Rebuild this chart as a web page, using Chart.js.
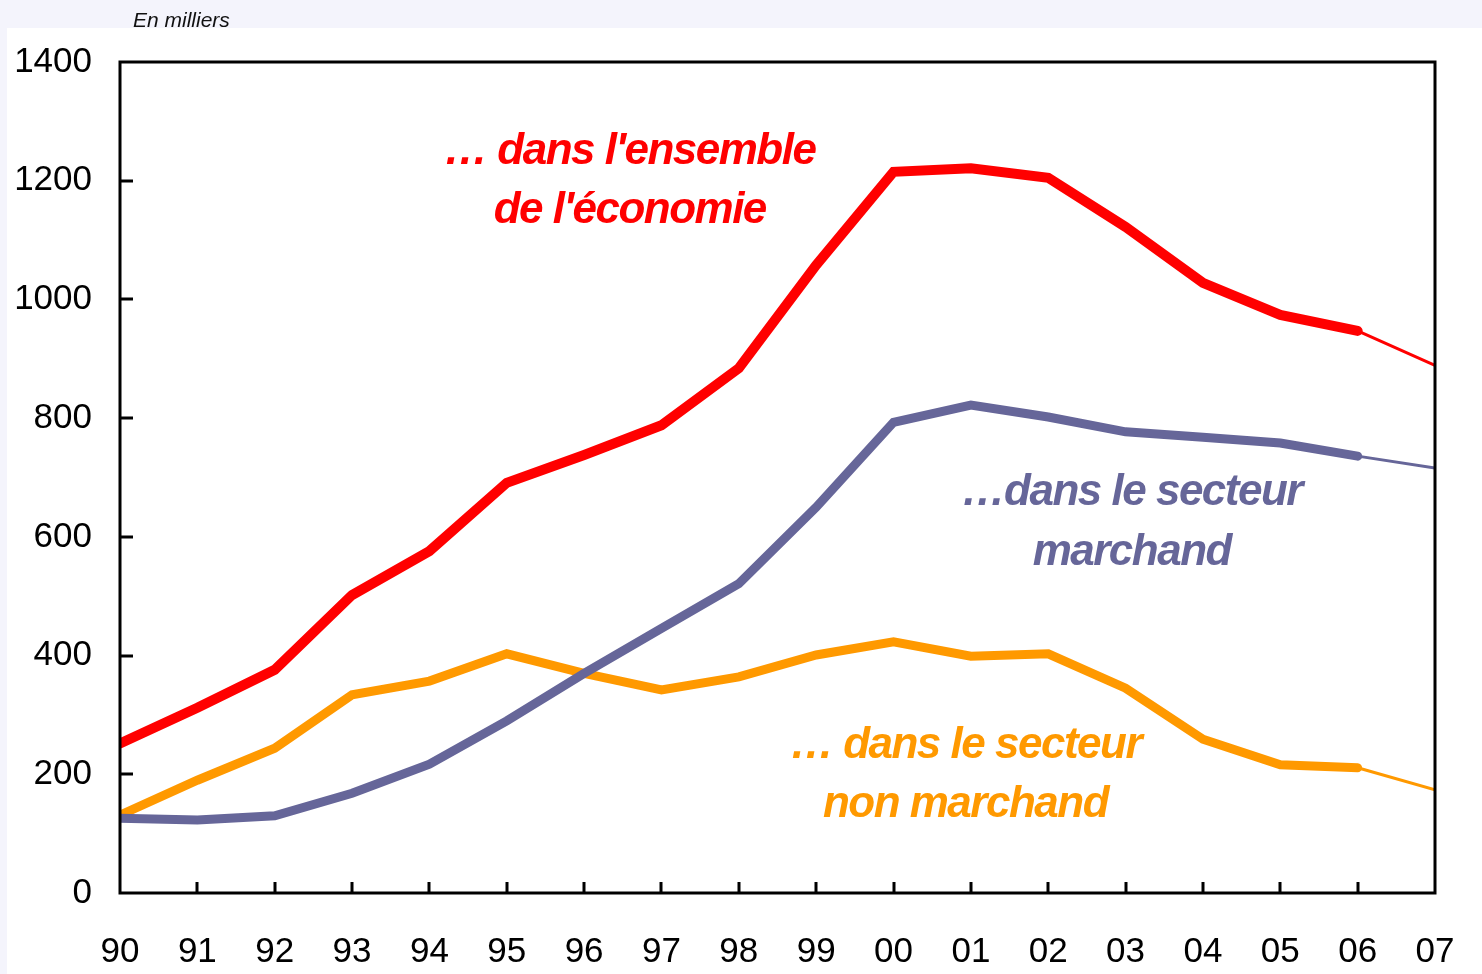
<!DOCTYPE html>
<html lang="fr">
<head>
<meta charset="utf-8">
<title>Emplois aidés</title>
<script src="https://cdn.jsdelivr.net/npm/chart.js@4.4.1/dist/chart.umd.min.js"></script>
<style>
  html, body { margin: 0; padding: 0; background: #f4f4fc; }
  #wrap { position: relative; width: 1482px; height: 974px; }
  canvas { display: block; }
</style>
</head>
<body>
<div id="wrap"><canvas id="chart" width="1482" height="974"></canvas></div>
<script>
// ── Data (en milliers) ────────────────────────────────────────────────
const years     = ['90','91','92','93','94','95','96','97','98','99','00','01','02','03','04','05','06','07'];
const ensemble  = [252, 312, 376, 502, 576, 691, 738, 788, 884, 1058, 1215, 1221, 1205, 1122, 1028, 974, 947, 889];
const marchand  = [126, 123, 130, 168, 217, 290, 370, 446, 521, 650, 793, 822, 802, 777, 768, 758, 736, 716];
const nonMarch  = [131, 190, 244, 334, 357, 403, 370, 342, 364, 401, 423, 399, 403, 345, 259, 216, 211, 174];
const yTicks    = [0, 200, 400, 600, 800, 1000, 1200, 1400];

// ── Annotation texts ──────────────────────────────────────────────────
const labels = [
  { lines: ['… dans l\'ensemble', 'de l\'économie'], color: '#ff0000', x: 6.59, y: 1228, gap: 59 },
  { lines: ['…dans le secteur', 'marchand'],         color: '#666699', x: 13.08, y: 654, gap: 60 },
  { lines: ['… dans le secteur', 'non marchand'],    color: '#ff9900', x: 10.93, y: 227, gap: 59 },
];

const FONT = '"Liberation Sans", Arial, sans-serif';
const LAST = years.length - 1;

function thinLast(width) {
  return ctx => (ctx.p1DataIndex === LAST ? 3 : width);
}

function series(data, color, width) {
  return {
    data,
    borderColor: color,
    backgroundColor: color,
    borderWidth: width,
    borderCapStyle: 'round',
    borderJoinStyle: 'miter',
    pointRadius: 0,
    tension: 0,
    fill: false,
    clip: 0,
    segment: { borderWidth: thinLast(width) },
  };
}

// ── Plugin: page panel, frame, inner ticks, annotations ───────────────
const decor = {
  id: 'decor',
  beforeDraw(chart) {
    const c = chart.ctx;
    c.save();
    c.fillStyle = '#f4f4fc';
    c.fillRect(0, 0, chart.width, chart.height);
    c.fillStyle = '#ffffff';
    c.fillRect(7, 28, chart.width - 7, chart.height - 28);
    c.fillStyle = '#111';
    c.font = 'italic 21px ' + FONT;
    c.textBaseline = 'alphabetic';
    c.fillText('En milliers', 133, 27);
    c.restore();
  },
  afterDatasetsDraw(chart) {
    const c = chart.ctx;
    const a = chart.chartArea;
    const xs = chart.scales.x, ys = chart.scales.y;
    c.save();
    c.strokeStyle = '#000';
    c.lineWidth = 3;
    c.beginPath();
    for (let i = 1; i < LAST; i++) {
      const px = Math.round(xs.getPixelForValue(i));
      c.moveTo(px, a.bottom);
      c.lineTo(px, a.bottom - 11);
    }
    yTicks.slice(1, -1).forEach(v => {
      const py = Math.round(ys.getPixelForValue(v));
      c.moveTo(a.left, py);
      c.lineTo(a.left + 13, py);
    });
    c.stroke();
    c.strokeRect(a.left, a.top, a.right - a.left, a.bottom - a.top);

    c.textAlign = 'center';
    c.textBaseline = 'alphabetic';
    c.font = 'italic bold 44px ' + FONT;
    if ('letterSpacing' in c) c.letterSpacing = '-1.5px';
    labels.forEach(l => {
      const px = xs.getPixelForValue(l.x);
      const py = ys.getPixelForValue(l.y);
      c.fillStyle = l.color;
      l.lines.forEach((t, i) => c.fillText(t, px, py + i * l.gap));
    });
    c.restore();
  },
};

new Chart(document.getElementById('chart'), {
  type: 'line',
  data: {
    labels: years,
    datasets: [
      series(ensemble, '#ff0000', 10),
      series(marchand, '#666699', 9),
      series(nonMarch, '#ff9900', 9),
    ],
  },
  options: {
    responsive: false,
    animation: false,
    layout: { padding: { top: 62, right: 47, left: 0, bottom: 0 } },
    plugins: { legend: { display: false }, tooltip: { enabled: false } },
    scales: {
      x: {
        type: 'category',
        offset: false,
        grid: { display: false, drawTicks: false },
        border: { display: false },
        ticks: {
          color: '#000',
          font: { family: FONT, size: 35 },
          padding: 38,
          maxRotation: 0,
          autoSkip: false,
        },
        afterFit(scale) {
          scale.height = 81;
          scale.paddingLeft = 0;
          scale.paddingRight = 0;
        },
      },
      y: {
        min: 0,
        max: 1400,
        grid: { display: false, drawTicks: false },
        border: { display: false },
        afterBuildTicks(scale) { scale.ticks = yTicks.map(v => ({ value: v })); },
        ticks: {
          color: '#000',
          font: { family: FONT, size: 35 },
          padding: 28,
          callback: v => String(v),
        },
        afterFit(scale) { scale.width = 120; },
      },
    },
  },
  plugins: [decor],
});
</script>
</body>
</html>
